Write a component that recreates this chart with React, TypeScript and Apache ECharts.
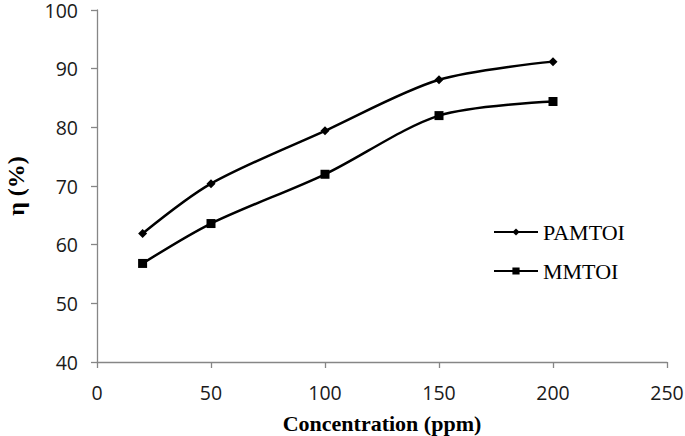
import React, { useEffect, useRef } from "react";
import * as echarts from "echarts";

const concentrations = [20, 50, 100, 150, 200];
const pamtoi = [61.9, 70.4, 79.4, 88.1, 91.2];
const mmtoi = [56.8, 63.6, 72.0, 82.0, 84.4];
const seriesNames = ["PAMTOI", "MMTOI"];
const xAxisTitle = "Concentration (ppm)";
const yAxisTitle = "η (%)";

export default function App() {
  const ref = useRef<HTMLDivElement>(null);
  useEffect(() => {
    document.body.style.margin = "0";
    const chart = echarts.init(ref.current!, null, { renderer: "svg" });
    const axisColor = "#868686";
    const tickFont = { fontFamily: "Open Sans", fontSize: 19.5, color: "#1a1a1a" };
    chart.setOption({
      animation: false,
      backgroundColor: "#ffffff",
      grid: { left: 97, right: 18, top: 10, bottom: 74, containLabel: false, outerBoundsMode: "none" },
      legend: {
        orient: "vertical",
        left: 488,
        top: 216,
        itemWidth: 44,
        itemHeight: 9,
        itemGap: 17,
        textStyle: { fontFamily: "Liberation Serif", fontSize: 22, color: "#000" },
        data: seriesNames,
      },
      xAxis: {
        type: "value",
        min: 0,
        max: 250,
        interval: 50,
        name: xAxisTitle,
        nameLocation: "middle",
        nameGap: 50,
        nameTextStyle: { fontFamily: "Liberation Serif", fontWeight: "bold", fontSize: 22, color: "#000" },
        axisLine: { show: true, lineStyle: { color: axisColor, width: 1.3 } },
        axisTick: { show: true, inside: false, length: 6, lineStyle: { color: axisColor, width: 1.3 } },
        axisLabel: { ...tickFont, margin: 20 },
        splitLine: { show: false },
      },
      yAxis: {
        type: "value",
        min: 40,
        max: 100,
        interval: 10,
        name: yAxisTitle,
        nameLocation: "middle",
        nameGap: 69,
        nameTextStyle: { fontFamily: "Liberation Serif", fontWeight: "bold", fontSize: 24, color: "#000" },
        axisLine: { show: true, lineStyle: { color: axisColor, width: 1.3 } },
        axisTick: { show: true, inside: false, length: 6, lineStyle: { color: axisColor, width: 1.3 } },
        axisLabel: { ...tickFont, margin: 19 },
        splitLine: { show: false },
      },
      series: [
        {
          name: seriesNames[0],
          type: "line",
          smooth: 0.3,
          data: concentrations.map((c, i) => [c, pamtoi[i]]),
          symbol: "diamond",
          symbolSize: 9,
          itemStyle: { color: "#000" },
          lineStyle: { color: "#000", width: 2.5 },
        },
        {
          name: seriesNames[1],
          type: "line",
          smooth: 0.3,
          data: concentrations.map((c, i) => [c, mmtoi[i]]),
          symbol: "rect",
          symbolSize: 9,
          itemStyle: { color: "#000" },
          lineStyle: { color: "#000", width: 2.5 },
        },
      ],
    });
    return () => chart.dispose();
  }, []);
  return <div ref={ref} style={{ width: 685, height: 436 }} />;
}
